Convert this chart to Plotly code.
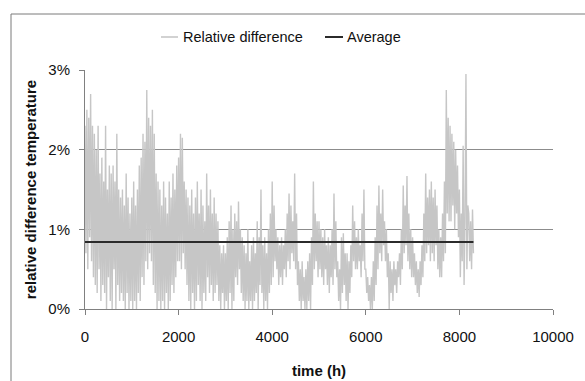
import plotly.graph_objects as go

step_h = 20
relative_difference = [
    2.3,0.7,2.5,0.5,2.4,0.9,2.7,0.6,2.3,0.4,
    2.2,0.3,2.0,0.2,2.3,0.5,1.7,0.1,1.9,0.3,
    1.6,0.2,2.3,0.0,1.5,0.4,1.8,0.1,1.7,0.0,
    1.8,0.5,1.6,0.0,2.2,0.3,1.5,0.1,1.4,0.2,
    1.5,0.1,1.3,0.0,1.7,0.2,1.4,0.0,1.2,0.1,
    1.4,0.0,1.6,0.1,1.3,0.0,1.5,0.2,1.8,0.1,
    1.9,0.4,2.2,0.3,2.1,0.6,2.75,0.5,2.4,0.7,
    2.3,0.6,2.5,0.3,2.2,0.2,1.7,0.0,1.6,0.1,
    1.5,0.0,1.3,0.1,1.6,0.0,1.4,0.2,1.2,0.0,
    1.6,0.1,1.4,0.3,1.7,0.2,1.5,0.4,1.8,0.6,
    1.9,0.6,2.2,0.5,2.15,0.7,1.6,0.5,1.5,0.3,
    1.4,0.1,1.3,0.0,1.5,0.2,1.2,0.0,1.4,0.1,
    1.6,0.3,1.2,0.1,1.5,0.0,1.3,0.2,1.1,0.1,
    1.7,0.4,1.3,0.2,1.5,0.3,1.2,0.1,1.4,0.2,
    1.2,0.3,1.1,0.1,0.8,0.0,0.7,0.2,0.8,0.0,
    0.7,0.1,0.9,0.0,1.1,0.2,1.3,0.0,1.0,0.1,
    1.2,0.4,1.1,0.3,1.35,0.5,1.0,0.2,0.9,0.1,
    0.8,0.0,0.7,0.1,1.0,0.0,0.6,0.1,0.8,0.0,
    0.9,0.1,0.7,0.2,1.1,0.0,0.9,0.3,1.5,0.2,
    0.8,0.0,0.9,0.1,0.7,0.0,1.0,0.2,1.2,0.3,
    1.6,0.4,1.3,0.6,1.0,0.5,0.9,0.3,0.8,0.4,
    0.9,0.3,0.8,0.5,1.0,0.4,1.2,0.6,1.45,0.5,
    1.3,0.7,1.1,0.6,1.7,0.5,1.2,0.3,0.6,0.1,
    0.5,0.0,0.6,0.1,0.4,0.0,0.5,0.0,0.6,0.1,
    0.7,0.0,0.9,0.3,1.6,0.5,1.2,0.6,1.1,0.4,
    1.1,0.5,1.0,0.4,0.9,0.3,1.0,0.5,0.8,0.3,
    0.9,0.2,0.8,0.4,1.0,0.3,1.45,0.5,1.1,0.4,
    0.6,0.1,0.5,0.0,0.9,0.2,0.95,0.3,0.7,0.1,
    0.7,0.0,0.6,0.2,0.8,0.4,1.3,0.6,1.1,0.5,
    0.9,0.5,1.0,0.6,0.8,0.4,1.2,0.6,1.5,0.5,
    0.5,0.2,0.4,0.1,0.3,0.0,0.4,0.0,0.6,0.1,
    0.9,0.3,1.3,0.5,1.55,0.7,1.2,0.6,1.5,0.8,
    1.1,0.6,1.0,0.4,0.7,0.0,0.6,0.2,0.5,0.1,
    0.6,0.3,0.5,0.2,0.6,0.4,0.7,0.3,1.0,0.5,
    1.55,0.7,1.3,0.8,1.67,0.6,1.2,0.5,1.0,0.4,
    0.9,0.4,0.7,0.3,0.6,0.2,0.5,0.15,0.6,0.3,
    0.8,0.4,1.2,0.6,1.7,0.7,1.4,0.8,1.5,0.6,
    1.6,0.7,1.4,0.6,1.5,0.8,1.3,0.5,1.0,0.4,
    0.9,0.4,1.2,0.6,1.6,0.7,2.75,1.2,2.4,1.1,
    2.3,1.1,2.2,1.3,2.1,1.0,2.0,1.2,1.8,0.9,
    1.5,0.4,1.2,0.6,2.05,0.3,1.1,2.95,0.5,1.3,
    1.2,0.6,1.1,0.5,1.25,0.7,
]
hours = [i * step_h for i in range(len(relative_difference))]
average_pct = 0.84
x_ticks = [0, 2000, 4000, 6000, 8000, 10000]
x_tick_labels = ["0", "2000", "4000", "6000", "8000", "10000"]
y_ticks = [0, 1, 2, 3]
y_tick_labels = ["0%", "1%", "2%", "3%"]

FONT = "Liberation Sans, Arial, sans-serif"
L, R, T, B = 85, 553, 70, 309
W, H = 585, 381

def px(x):
    return (x - L) / (R - L)

def py(y):
    return (B - y) / (B - T)

fig = go.Figure()
fig.add_trace(go.Scatter(x=hours, y=relative_difference, mode="lines",
                         line=dict(color="#c6c6c6", width=1.4),
                         name="Relative difference", showlegend=False))
fig.add_trace(go.Scatter(x=[hours[0], hours[-1]], y=[average_pct, average_pct],
                         mode="lines", line=dict(color="#2b2b2b", width=2),
                         name="Average", showlegend=False))

shapes = [
    dict(type="rect", xref="paper", yref="paper", x0=px(11), x1=px(600),
         y0=py(400), y1=py(14), line=dict(color="#7a7a7a", width=1), layer="below"),
    dict(type="line", xref="paper", yref="paper", x0=px(161), x1=px(178),
         y0=py(37), y1=py(37), line=dict(color="#c3c3c3", width=1.5)),
    dict(type="line", xref="paper", yref="paper", x0=px(325), x1=px(343),
         y0=py(37), y1=py(37), line=dict(color="#2b2b2b", width=2)),
]
annotations = [
    dict(xref="paper", yref="paper", x=px(181), y=py(37), text="Relative difference",
         showarrow=False, xanchor="left", yanchor="middle",
         font=dict(family=FONT, size=14.5, color="#111")),
    dict(xref="paper", yref="paper", x=px(345), y=py(37), text="Average",
         showarrow=False, xanchor="left", yanchor="middle",
         font=dict(family=FONT, size=14.5, color="#111")),
]

fig.update_layout(
    width=W, height=H,
    margin=dict(l=L, r=W - R, t=T, b=H - B),
    paper_bgcolor="white", plot_bgcolor="white",
    font=dict(family=FONT, size=15, color="#111"),
    shapes=shapes, annotations=annotations,
    showlegend=False,
    xaxis=dict(range=[0, 10000], tickvals=x_ticks, ticktext=x_tick_labels,
               showgrid=False, automargin=False,
               showline=True, linecolor="#808080", linewidth=1,
               ticks="outside", ticklen=5, tickcolor="#808080",
               ticklabelstandoff=9,
               zeroline=False, tickfont=dict(size=15),
               title=dict(text="<b>time (h)</b>", font=dict(size=15), standoff=21)),
    yaxis=dict(range=[0, 3], tickvals=y_ticks, ticktext=y_tick_labels,
               showgrid=True, gridcolor="#8c8c8c", gridwidth=1,
               showline=True, linecolor="#808080", linewidth=1,
               ticks="outside", ticklen=5, tickcolor="#808080",
               ticklabelstandoff=6, automargin=False,
               zeroline=False, tickfont=dict(size=15),
               title=dict(text="<b>relative difference temperature</b>",
                          font=dict(size=15), standoff=8)),
)

fig.write_html("out.html")
